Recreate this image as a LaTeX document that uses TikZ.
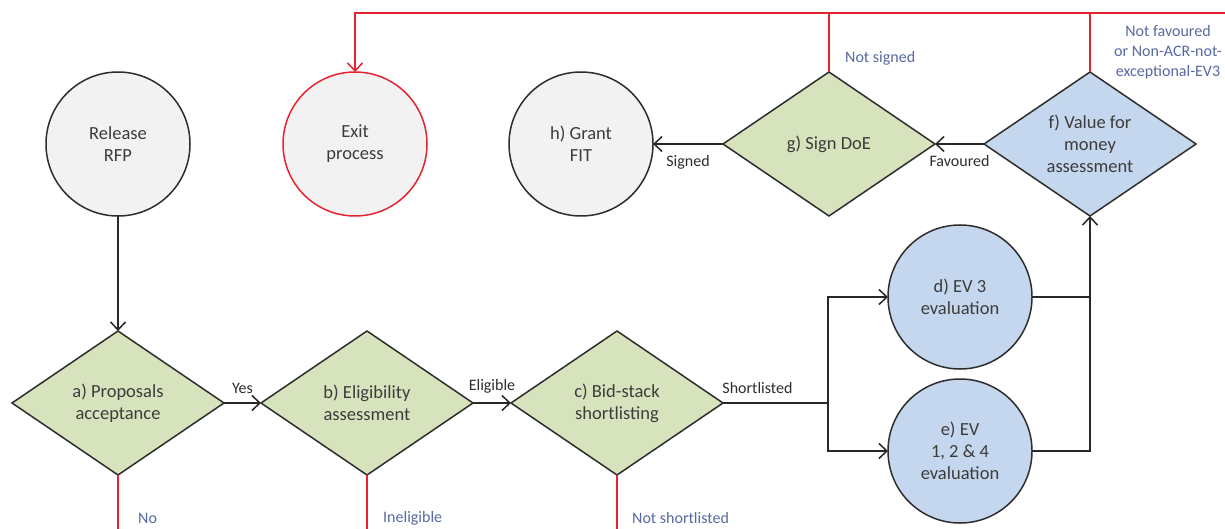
\documentclass[tikz,border=0pt]{standalone}
\usepackage{fontspec}
\setmainfont{Carlito}
\usetikzlibrary{shapes.geometric,arrows.meta}
\definecolor{redl}{RGB}{228,36,48}
\definecolor{outline}{RGB}{45,45,45}
\definecolor{lineblack}{RGB}{40,40,40}
\definecolor{grayfill}{RGB}{242,242,242}
\definecolor{greenfill}{RGB}{215,227,188}
\definecolor{bluefill}{RGB}{197,215,238}
\definecolor{nodetext}{RGB}{60,60,60}
\definecolor{flowtext}{RGB}{45,45,45}
\definecolor{exittext}{RGB}{88,106,160}
\begin{document}
\begin{tikzpicture}[x=1pt,y=-1pt,
  proc/.style={circle, draw=outline, line width=1.5pt, fill=grayfill, minimum size=144pt,
    inner sep=0pt, outer sep=0pt, align=center, text=nodetext, font=\fontsize{18.5}{22}\selectfont},
  dec/.style={diamond, draw=outline, line width=1.5pt, fill=greenfill, minimum width=212pt,
    minimum height=144pt, shape aspect=1.47, inner sep=0pt, outer sep=0pt, align=center,
    text=nodetext, font=\fontsize{18.5}{22}\selectfont},
  flow/.style={draw=lineblack, line width=1.5pt, -{Straight Barb[length=8pt,width=15pt]}},
  plain/.style={draw=lineblack, line width=1.5pt},
  exitline/.style={draw=redl, line width=1.5pt},
  flowlbl/.style={text=flowtext, font=\fontsize{16}{19}\selectfont, inner sep=0pt},
  exitlbl/.style={text=exittext, font=\fontsize{16}{20}\selectfont, inner sep=0pt, align=center}
]
\useasboundingbox[fill=white] (0,0) rectangle (1225,529);

% top row
\node[proc] (rfp) at (118,144) {Release\\RFP};
\node[proc, draw=redl] (exit) at (355,144) {Exit\\process};
\node[proc] (h) at (581,144) {h) Grant\\FIT};
\node[dec] (g) at (829,144) {g) Sign DoE};
\node[dec, fill=bluefill] (f) at (1090,144) {f) Value for\\money\\assessment};

% bottom row
\node[dec] (a) at (118,403) {a) Proposals\\acceptance};
\node[dec] (b) at (367,403) {b) Eligibility\\assessment};
\node[dec] (c) at (617,403) {c) Bid-stack\\shortlisting};
\node[proc, fill=bluefill] (d) at (960,297) {d) EV 3\\evaluation};
\node[proc, fill=bluefill] (e) at (960,451) {e) EV\\1, 2 \& 4\\evaluation};

% helper coordinates
\coordinate (j) at (828,403);
\coordinate (topR) at (1225,13);
\coordinate (botA) at (118,529);
\coordinate (botB) at (367,529);
\coordinate (botC) at (617,529);

% flow connectors
\draw[flow] (rfp.south) -- (a.north);
\draw[flow] (a.east) -- node[flowlbl, above=9pt] {Yes} (b.west);
\draw[flow] (b.east) -- node[flowlbl, above=9pt] {Eligible} (c.west);
\draw[plain] (c.east) -- node[flowlbl, above=9pt, xshift=-18pt] {Shortlisted} (j);
\draw[flow] (j) |- (d.west);
\draw[flow] (j) |- (e.west);
\draw[plain] (d.east) -- (d.east -| f.south);
\draw[flow] (e.east) -| (f.south);
\draw[flow] (f.west) -- node[flowlbl, below=11pt] {Favoured} (g.east);
\draw[flow] (g.west) -- node[flowlbl, below=11pt] {Signed} (h.east);

% exit connectors
\draw[exitline] (g.north) -- (g.north |- topR);
\draw[exitline] (f.north) -- (f.north |- topR);
\draw[exitline, -{Straight Barb[length=8pt,width=15pt]}] (topR) -- (exit.north |- topR) -- (exit.north);
\draw[exitline] (a.south) -- (botA);
\draw[exitline] (b.south) -- (botB);
\draw[exitline] (c.south) -- (botC);

% exit labels
\node[exitlbl, anchor=west] (lno) at (138,518) {No};
\node[exitlbl, anchor=west] (lin) at (383,518) {Ineligible};
\node[exitlbl, anchor=west] (lns) at (632,518) {Not shortlisted};
\node[exitlbl, anchor=west] (lnsg) at (845,58) {Not signed};
\node[exitlbl] (lnf) at (1168,52) {Not favoured\\or Non-ACR-not-\\exceptional-EV3};
\end{tikzpicture}
\end{document}
